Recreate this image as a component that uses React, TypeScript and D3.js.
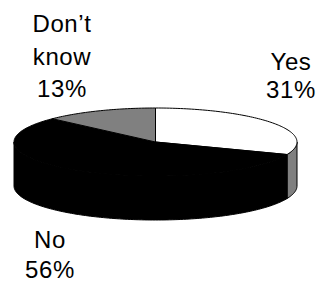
import React from "react";
import * as d3 from "d3";

const categories = ["Yes", "No", "Don\u2019t know"];
const percents = [31, 56, 13];
const topColors = ["#ffffff", "#000000", "#808080"];
const sideColors = ["#808080", "#000000", "#808080"];

// label text lines and where each label block sits (center x, first baseline, line step)
const labelLines = [["Yes", "31%"], ["No", "56%"], ["Don\u2019t", "know", "13%"]];
const labelPos: [number, number, number][] = [
  [291, 69.5, 28.5],
  [50, 248, 30],
  [62, 32, 32.5],
];

const W = 318;
const H = 283;
const cx = 155.5;
const cy = 142;
const rx = 141.5;
const ry = 34;
const depth = 44;

const pt = (a: number, dy = 0): [number, number] => [
  cx + rx * Math.sin(a),
  cy - ry * Math.cos(a) + dy,
];

function arcPoints(a0: number, a1: number, dy = 0) {
  const n = Math.max(2, Math.ceil((a1 - a0) / 0.02));
  return d3.range(n + 1).map((i) => pt(a0 + ((a1 - a0) * i) / n, dy));
}

const line = d3.line();

export default function App() {
  const arcs = d3.pie<number>().sort(null).value((d) => d)(percents);

  const walls = arcs.map((d, i) => {
    const a0 = Math.max(d.startAngle, Math.PI / 2);
    const a1 = Math.min(d.endAngle, (3 * Math.PI) / 2);
    if (a1 <= a0) return null;
    const top = arcPoints(a0, a1);
    const bottom = arcPoints(a0, a1, depth).reverse();
    return (
      <path
        key={"w" + i}
        d={line([...top, ...bottom])! + "Z"}
        fill={sideColors[i]}
        stroke="#000"
        strokeWidth={1}
        strokeLinejoin="round"
      />
    );
  });

  const tops = arcs.map((d, i) => (
    <path
      key={"t" + i}
      d={line([[cx, cy], ...arcPoints(d.startAngle, d.endAngle)])! + "Z"}
      fill={topColors[i]}
      stroke="#000"
      strokeWidth={1}
      strokeLinejoin="round"
    />
  ));

  return (
    <svg
      width={W}
      height={H}
      style={{ position: "absolute", left: 0, top: 0, display: "block" }}
    >
      <rect width={W} height={H} fill="#fff" />
      {walls}
      {tops}
      {labelLines.map((lines, i) => {
        const [x, y, lh] = labelPos[i];
        return (
          <text
            key={categories[i]}
            x={x}
            y={y}
            textAnchor="middle"
            fontFamily="'Liberation Sans', Arial, sans-serif"
            fontSize={24}
            letterSpacing={0.6}
            fill="#000"
          >
            {lines.map((t, j) => (
              <tspan key={j} x={x} y={y + j * lh}>
                {t}
              </tspan>
            ))}
          </text>
        );
      })}
    </svg>
  );
}
